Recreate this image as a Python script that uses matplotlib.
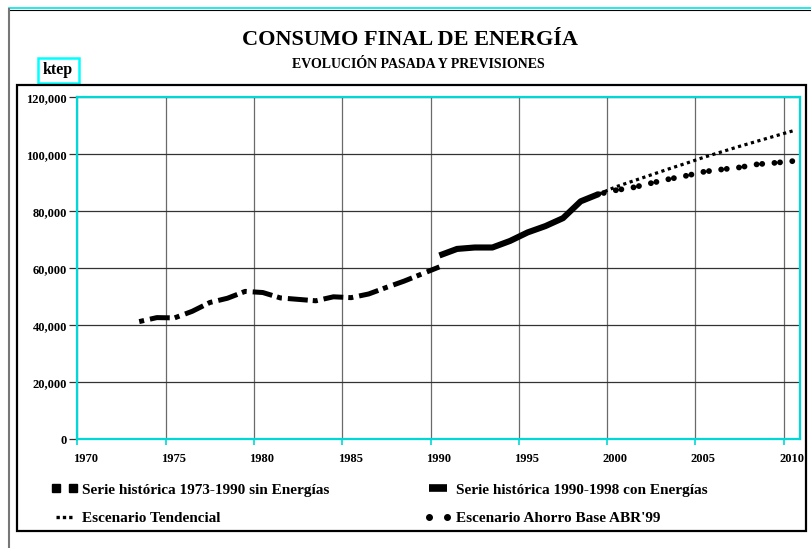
import matplotlib
matplotlib.use("Agg")
import matplotlib.pyplot as plt
import matplotlib.transforms as mtransforms
from matplotlib.lines import Line2D
from matplotlib.patches import Rectangle
from matplotlib.ticker import FuncFormatter
import numpy as np

# --- data (ktep) ---
hist_years = list(range(1973, 1991))
hist_vals = [41300, 42700, 42600, 44900, 48000, 49500, 51900, 51500, 49600,
             49100, 48600, 50000, 49700, 51000, 53300, 55500, 58000, 60500]

con_years = list(range(1990, 2000))
con_vals = [64500, 66800, 67300, 67300, 69600, 72600, 74800, 77600, 83500, 86000]

tend_years = list(range(1999, 2011))
tend_vals = [86000, 88600, 90700, 92800, 94900, 96900, 99000, 100900,
             102800, 104600, 106400, 108200]

ahorro_years = list(range(1999, 2011))
ahorro_vals = [86000, 87400, 88400, 89900, 91300, 92500, 93900, 94700,
               95400, 96500, 97000, 97600]

labels = ["Serie histórica 1973-1990 sin Energías",
          "Escenario Tendencial",
          "Serie histórica 1990-1998 con Energías",
          "Escenario Ahorro Base ABR'99"]

title = "CONSUMO FINAL DE ENERGÍA"
subtitle = "EVOLUCIÓN PASADA Y PREVISIONES"
unit = "ktep"

W, H = 811, 548
serif = ["Liberation Serif", "DejaVu Serif"]
plt.rcParams['font.family'] = serif
plt.rcParams['font.weight'] = 'bold'

fig = plt.figure(figsize=(W / 100, H / 100), dpi=100)
ax = fig.add_axes([77.4 / W, 1 - 439.3 / H, (800 - 77.4) / W, (439.3 - 97.3) / H])

cyan = "#00D8D8"

def mid(years):
    # values plotted at mid-year
    return np.array(years) + 0.5

ax.plot(mid(hist_years), hist_vals, color="black", lw=3.6,
        dashes=(1, 1.2, 4, 1), dash_capstyle="butt", solid_joinstyle="miter", zorder=4)
ax.plot(mid(con_years), con_vals, color="black", lw=4.4, solid_capstyle="butt", zorder=4)
ax.plot(mid(tend_years), tend_vals, color="black", lw=2.3,
        dashes=(1.0, 1.1), dash_capstyle="butt", zorder=3)
ax.plot(mid(ahorro_years), ahorro_vals, color="black", lw=4.2,
        dashes=(0.01, 0.95, 0.01, 2.1), dash_capstyle="round", zorder=3)

ax.set_xlim(1970, 2010.92)
ax.set_ylim(0, 120000)
ax.set_xticks(range(1970, 2011, 5))
ax.set_yticks(range(0, 120001, 20000))
ax.yaxis.set_major_formatter(FuncFormatter(lambda v, p: f"{int(v):,}"))

ax.grid(True, axis="y", color="#333333", lw=0.9)
ax.grid(True, axis="x", color="#6a6a6a", lw=0.9)
ax.set_axisbelow(True)

for s in ax.spines.values():
    s.set_color(cyan)
    s.set_linewidth(1.6)

ax.tick_params(axis="y", colors="#333333", labelcolor="black", length=6, width=0.9, pad=1.5, labelsize=9)
ax.tick_params(axis="x", color=cyan, labelcolor="black", length=4, width=1.2, pad=6, labelsize=9)
offset = mtransforms.ScaledTranslation(0.08, 0, fig.dpi_scale_trans)
for lab in ax.get_xticklabels():
    lab.set_transform(lab.get_transform() + offset)
for lab in ax.get_xticklabels() + ax.get_yticklabels():
    lab.set_fontweight("bold")

# titles
fig.text(410 / W, 1 - 40 / H, title, ha="center", va="center", fontsize=16, fontweight="bold")
fig.text(418 / W, 1 - 64 / H, subtitle, ha="center", va="center", fontsize=10, fontweight="bold")
fig.text(58 / W, 1 - 70.5 / H, unit, ha="center", va="center", fontsize=11.5, fontweight="bold")
fig.add_artist(Rectangle((38 / W, 1 - 83 / H), 41 / W, 25 / H, transform=fig.transFigure,
                         fill=False, edgecolor="#00FFFF", lw=1.8))

# frames
fig.add_artist(Rectangle((17 / W, 1 - 531 / H), (806 - 17) / W, (531 - 85) / H,
                         transform=fig.transFigure, fill=False, edgecolor="black", lw=1.6))
fig.add_artist(Line2D([9 / W, 1], [1 - 7.5 / H] * 2, transform=fig.transFigure, color="#00E5E5", lw=1.2))
fig.add_artist(Line2D([9 / W, 1], [1 - 9.5 / H] * 2, transform=fig.transFigure, color="black", lw=0.8))
fig.add_artist(Line2D([9 / W] * 2, [0, 1 - 9 / H], transform=fig.transFigure, color="#777777", lw=1.5))

# legend proxies
h_hist = Line2D([], [], ls="none", marker="s", ms=5.5, color="black")
h_tend = Line2D([], [], color="black", lw=2.4, dashes=(1, 0.9), dash_capstyle="butt")
h_con = Line2D([], [], color="black", lw=5.5, solid_capstyle="butt")
h_ahor = Line2D([], [], ls="none", marker="o", ms=4, color="black")
fig.legend([h_hist, h_tend, h_con, h_ahor], labels, ncol=2, numpoints=2,
           loc="upper left", bbox_to_anchor=(51 / W, 1 - 483 / H), frameon=False,
           prop={"size": 11, "weight": "bold"}, handlelength=1.75, handletextpad=0.3,
           columnspacing=6.2, labelspacing=0.95, borderaxespad=0, borderpad=0)

fig.savefig("out.png", dpi=100)
